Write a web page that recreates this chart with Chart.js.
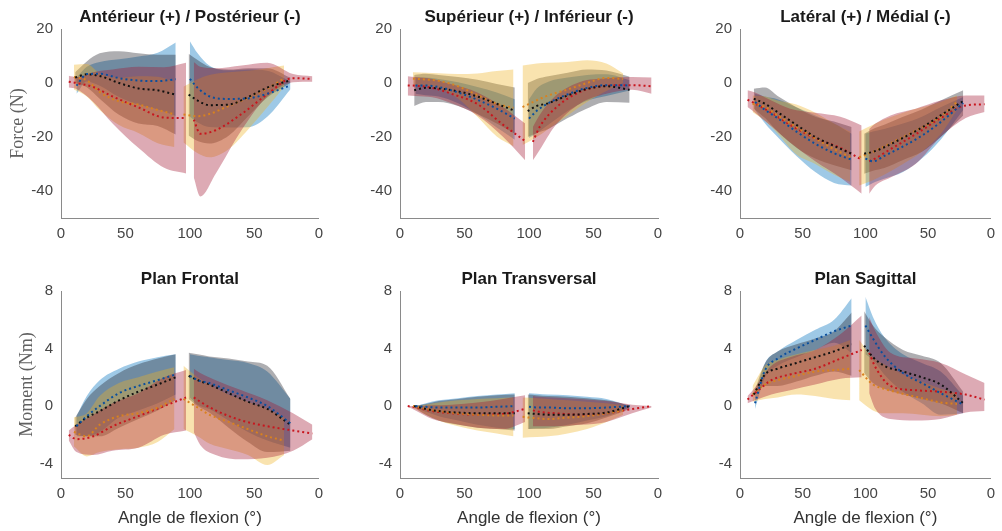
<!DOCTYPE html>
<html>
<head>
<meta charset="utf-8">
<script src="https://cdn.jsdelivr.net/npm/chart.js@4.4.1/dist/chart.umd.min.js"></script>
<style>
  body { margin: 0; background: #fff; }
  #wrap { position: relative; width: 1002px; height: 531px; overflow: hidden; }
  canvas { position: absolute; }
</style>
</head>
<body>
<div id="wrap">
  <canvas id="c0"></canvas><canvas id="c1"></canvas><canvas id="c2"></canvas>
  <canvas id="c3"></canvas><canvas id="c4"></canvas><canvas id="c5"></canvas>
</div>
<script>
// x positions: 0-100 = flexion, 100-200 = extension (shown as 100 -> 0)
const xTicks = [0, 50, 100, 150, 200];
const xTickLabels = ['0', '50', '100', '50', '0'];
const forceTicks = [-40, -20, 0, 20];
const momentTicks = [-4, 0, 4, 8];

// first 7 = flexion, last 7 = extension
const xBlue   = [12, 20, 30, 45, 60, 75, 89, 100, 106, 115, 130, 145, 160, 178];
const xBlack  = [11, 20, 30, 45, 60, 75, 89, 99, 106, 115, 130, 145, 160, 178];
const xYellow = [10, 20, 30, 45, 60, 75, 88, 95, 106, 115, 130, 145, 160, 173];
const xRed    = [6, 12, 25, 40, 60, 80, 97, 103, 108, 120, 140, 160, 180, 195];

// Antérieur / Postérieur
const apBlueMean = [-1, 3.3, 3.4, 1.8, 0.9, 0.7, 1.4, 1.5, -1.8, -4.9, -5.9, -5.7, -4, -0.9];
const apBlueHi = [2, 6, 7.8, 8.8, 9.8, 11.2, 15, 15.5, 11, 6.5, 4.7, 5, 4.5, 0.5];
const apBlueLo = [-4, 0.6, -1, -5.2, -8, -9.8, -12.2, -12.5, -14.6, -16.3, -16.5, -16.4, -12.5, -2.3];
const apBlackMean = [2, 3.2, 2.6, 0, -2, -2.7, -4.3, -4.3, -6.5, -8.2, -8, -5.2, -1.7, 1];
const apBlackHi = [4, 8, 11, 11.8, 11, 10.5, 10.5, 10.8, 8.5, 6, 5, 5.5, 5.5, 2];
const apBlackLo = [0, -1.6, -5.8, -11.8, -15, -15.9, -19.1, -19.4, -21.5, -22.4, -19.5, -12.4, -5.4, 0];
const apYellowMean = [2.2, 1, -3.3, -6.8, -8, -10, -11.6, -11.7, -12.3, -11.5, -8.5, -5.5, -2, 1.6];
const apYellowHi = [6.8, 7, 3.5, 2, 2.5, 2.3, 0.5, -1.4, 1.4, 3, 4, 4.5, 5.5, 6.5];
const apYellowLo = [-2.4, -5, -10, -15.6, -18.5, -22.3, -23.7, -22, -26, -27.5, -24.5, -17.3, -9, -1.5];
const apRedMean = [0.5, 0, -1.5, -5, -9, -12.8, -13, -13.6, -18.8, -17.5, -11.5, -4.2, 1.8, 1.5];
const apRedHi = [2.7, 2.2, 4, 5, 6, 5.8, 7.5, 7.8, 6, 5.5, 6.5, 7.5, 3.3, 2.5];
const apRedLo = [-1.7, -2.2, -7, -15, -24, -31.4, -33.5, -35, -42, -33.6, -17.5, -5, 0.3, 0.5];

// Supérieur / Inférieur
const siBlueMean = [-0.9, -0.9, -1.5, -3.5, -6.2, -9.5, -13.2, -13.2, -10.3, -7.5, -4.2, -1.8, -0.8, -0.9];
const siBlueHi = [2, 2, 1.5, 0.3, -1.5, -3.5, -6, -6, -2, 0.5, 2, 3, 3.2, 1];
const siBlueLo = [-4, -4.5, -5, -7.5, -11.5, -16.5, -21, -20.4, -18.6, -15.5, -10.4, -6.6, -4.8, -2.8];
const siBlackMean = [-2.7, -1.8, -2, -3.1, -5, -7.7, -10.3, -10.4, -8.5, -7.5, -4.6, -2.2, -1.2, -2.5];
const siBlackHi = [3, 3.4, 3, 2.2, 1.2, -0.4, -1.7, 0, 1.5, 2.5, 3.8, 5, 4.6, 2.3];
const siBlackLo = [-8.5, -7, -7, -8.5, -11.5, -15, -18.8, -20, -18.5, -17, -13, -9.4, -7, -7.3];
const siYellowMean = [1.6, 1.3, 0.8, -1.2, -4.5, -7.7, -9.2, -8.9, -6.4, -4.6, -2.4, 0, 1.9, 1.5];
const siYellowHi = [4, 3.8, 3.6, 3.3, 3.5, 4.4, 5, 6.5, 7.2, 7.5, 7.8, 8.4, 7.2, 3.5];
const siYellowLo = [-0.8, -1.2, -2, -5.7, -12.5, -19.8, -23.4, -23, -20, -17, -12, -7, -3, 0];
const siRedMean = [-0.9, -1, -1.8, -4, -7.8, -15.5, -21.5, -21.8, -16.5, -9.5, -3.2, -1, -0.8, -1.2];
const siRedHi = [2.5, 2.2, 1.5, -0.5, -3.5, -9, -15, -16.3, -12, -5, 0.5, 1.8, 2.2, 2];
const siRedLo = [-4.6, -4.8, -5.3, -7.5, -12, -20, -28.6, -28.6, -25, -16, -7.5, -4, -2.5, -4];

// Latéral / Médial
const lmBlueMean = [-7, -10, -13, -18, -22.5, -26, -28.4, -28, -29, -27, -23.5, -19.5, -14.5, -7.4];
const lmBlueHi = [-4, -5, -6, -9, -12, -15, -18.8, -18.8, -18, -17, -15, -12.5, -9, -5.2];
const lmBlueLo = [-10, -15, -20, -27, -33, -37, -38, -38.5, -37, -35.5, -33, -28, -21, -10];
const lmBlackMean = [-5.8, -7.7, -10.8, -15.5, -20, -23.3, -26.2, -26.2, -25.5, -23.8, -20.3, -16.5, -12, -6.7];
const lmBlackHi = [-2.1, -1.7, -4.8, -9, -12.5, -14.3, -16.3, -18.8, -17, -15.5, -12.5, -9.8, -6.5, -2.7];
const lmBlackLo = [-9.5, -13, -18, -24, -28, -30.5, -32.3, -33.6, -32.5, -31.5, -28.5, -25.5, -20, -12];
const lmYellowMean = [-7.7, -8.9, -12, -16.3, -20.5, -24.5, -27.4, -27.5, -25.5, -23.5, -20, -16.5, -12.5, -7];
const lmYellowHi = [-4.6, -5, -6.5, -8, -11, -15, -18.1, -18, -15.5, -13.5, -11, -9, -7, -4.6];
const lmYellowLo = [-10.7, -14, -18.8, -26.5, -30, -34, -36.7, -38, -36, -34, -30, -25.5, -19, -10];
const lmRedMean = [-6.2, -7.6, -11, -15.5, -20.5, -24, -28.4, -29, -27.9, -24.5, -19, -13, -8.3, -7.9];
const lmRedHi = [-2.7, -3.5, -6.5, -9.5, -11, -12.5, -15.7, -17, -15, -12, -9.5, -6.5, -4.6, -4.6];
const lmRedLo = [-8.9, -11, -16, -22, -29, -35, -41, -41, -38, -35, -30, -20, -13, -10.7];

// Plan Frontal
const frBlueMean = [-1.4, -0.7, 0, 0.9, 1.4, 1.8, 2.2, 2.1, 1.8, 1.6, 1.1, 0.6, 0, -1.2];
const frBlueHi = [-0.7, 0.7, 1.8, 2.6, 3.1, 3.4, 3.6, 3.6, 3.5, 3.4, 3.2, 3, 2.4, 0.5];
const frBlueLo = [-2.1, -2.1, -1.8, -0.8, -0.3, 0.2, 0.8, 0.6, 0.1, -0.2, -1, -1.8, -2.4, -2.9];
const frBlackMean = [-1.4, -0.8, -0.35, 0.4, 1, 1.5, 2, 2.1, 1.8, 1.5, 0.9, 0.3, -0.2, -1.3];
const frBlackHi = [-0.8, 0.5, 1.4, 2.3, 2.9, 3.3, 3.6, 3.7, 3.6, 3.45, 3.3, 3.1, 2.8, 0.5];
const frBlackLo = [-2, -2.1, -2.1, -1.5, -0.9, -0.3, 0.4, 0.5, 0, -0.45, -1.5, -2.5, -3.2, -3.1];
const frYellowMean = [-1.8, -2.1, -1.3, -0.7, -0.5, -0.1, 0.5, 0.5, -0.1, -0.6, -1.1, -1.6, -2.1, -2.4];
const frYellowHi = [-0.8, -0.5, 0.7, 1.6, 2, 2.4, 2.7, 2.8, 2, 1.5, 0.8, 0.3, -0.2, -0.8];
const frYellowLo = [-2.8, -3.5, -3.2, -3, -2.9, -2.5, -1.6, -1.6, -2.1, -2.6, -3, -3.4, -4.1, -3.4];
const frRedMean = [-2, -2.3, -2.1, -1.4, -0.7, 0, 0.6, 0.6, 0.3, -0.3, -1, -1.4, -1.7, -1.9];
const frRedHi = [-1.7, -1.3, -0.6, 0.2, 0.9, 2, 2.5, 2.6, 2.3, 1.8, 1.1, 0.4, -0.5, -1.3];
const frRedLo = [-2.4, -3.2, -3.4, -3.1, -2.9, -2, -1.7, -1.8, -2.7, -3.4, -3.7, -3.6, -3.1, -2.3];

// Plan Transversal
const trBlueMean = [0, -0.05, -0.1, -0.1, -0.1, -0.05, 0, -0.05, -0.1, -0.1, -0.15, -0.15, -0.1, 0];
const trBlueHi = [0, 0.2, 0.4, 0.55, 0.7, 0.8, 0.9, 0.9, 0.85, 0.8, 0.75, 0.65, 0.5, 0];
const trBlueLo = [-0.1, -0.4, -0.7, -1, -1.3, -1.5, -1.6, -1.6, -1.55, -1.5, -1.3, -1, -0.7, -0.1];
const trBlackMean = [0, -0.2, -0.35, -0.45, -0.5, -0.5, -0.5, -0.5, -0.55, -0.6, -0.6, -0.55, -0.45, 0];
const trBlackHi = [0, 0.15, 0.35, 0.5, 0.65, 0.75, 0.8, 0.8, 0.75, 0.7, 0.65, 0.55, 0.4, 0.05];
const trBlackLo = [-0.1, -0.6, -1, -1.3, -1.5, -1.6, -1.7, -1.6, -1.6, -1.6, -1.4, -1.2, -0.8, -0.2];
const trYellowMean = [0, -0.2, -0.35, -0.5, -0.6, -0.65, -0.65, -0.75, -0.85, -0.9, -0.8, -0.7, -0.5, -0.3];
const trYellowHi = [0, 0.1, 0.25, 0.4, 0.5, 0.55, 0.6, 0.6, 0.55, 0.5, 0.4, 0.3, 0.2, 0.05];
const trYellowLo = [-0.1, -0.6, -1, -1.4, -1.7, -1.9, -2.1, -2.2, -2.15, -2.1, -1.9, -1.6, -1.1, -0.6];
const trRedMean = [0, -0.1, -0.35, -0.5, -0.6, -0.55, -0.2, -0.3, -0.4, -0.5, -0.6, -0.5, -0.2, 0];
const trRedHi = [0, 0, 0.05, 0.1, 0.25, 0.5, 0.75, 0.7, 0.65, 0.6, 0.5, 0.35, 0.1, 0];
const trRedLo = [-0.05, -0.3, -0.9, -1.2, -1.5, -1.6, -1.1, -1.4, -1.4, -1.4, -1.3, -1.1, -0.5, -0.1];

// Plan Sagittal
const sgBlueMean = [0.2, 2.5, 3.3, 4, 4.6, 5.2, 5.6, 5.6, 4.7, 3.5, 2.3, 1.6, 0.9, 0.1];
const sgBlueHi = [0.8, 3, 3.8, 4.6, 5.3, 6, 7.5, 7.6, 6.2, 4.8, 3.6, 3, 2.4, 0.7];
const sgBlueLo = [-0.2, 2, 2.8, 3.4, 3.9, 4.4, 3.7, 3.6, 3.2, 2.2, 1, 0.2, -0.6, -0.5];
const sgBlackMean = [0.8, 2.2, 2.6, 3, 3.4, 3.8, 4.3, 4.2, 3.4, 2.8, 2.4, 2, 1.5, 0.2];
const sgBlackHi = [0.9, 3, 3.8, 4.3, 4.7, 5.2, 6.5, 6.6, 5.6, 4.8, 3.9, 3.5, 3, 1];
const sgBlackLo = [0.7, 1.4, 1.4, 1.7, 2.1, 2.4, 2.1, 2.3, 1.6, 1.2, 0.8, 0.5, 0.2, -0.5];
const sgYellowMean = [0.8, 1.5, 1.8, 2.1, 2.4, 2.5, 2.6, 2.5, 1.5, 1.2, 0.85, 0.55, 0.25, 0.15];
const sgYellowHi = [1.4, 2.8, 3.2, 3.6, 3.9, 4.2, 4.6, 4.6, 3.4, 2.9, 2.2, 1.7, 1.2, 0.9];
const sgYellowLo = [0.3, 0.5, 0.6, 0.8, 0.7, 0.5, 0.4, 0.4, -0.3, -0.5, -0.5, -0.6, -0.7, -0.6];
const sgRedMean = [0.45, 0.9, 1.8, 2.2, 2.6, 3.3, 3.9, 3.7, 2.7, 1.4, 1.1, 1, 0.8, 0.45];
const sgRedHi = [0.7, 1.3, 2.8, 3.4, 3.9, 5, 6.3, 6.2, 5.2, 3.7, 3.3, 3, 2.2, 1.6];
const sgRedLo = [0.2, 0.4, 0.8, 1.1, 1.5, 1.9, 2, 0.9, -0.2, -0.9, -1, -0.9, -0.45, -0.35];

const groups = ['blue', 'black', 'yellow', 'red'];
const xByGroup = { blue: xBlue, black: xBlack, yellow: xYellow, red: xRed };
const groupStyle = {
  blue:   { band: 'rgba(0, 114, 189, 0.38)', line: '#0a4f9e', order: 4 },
  black:  { band: 'rgba(30, 30, 40, 0.36)',  line: '#111111', order: 3 },
  yellow: { band: 'rgba(237, 177, 32, 0.36)', line: '#d9821f', order: 2 },
  red:    { band: 'rgba(162, 20, 47, 0.36)', line: '#c8161e', order: 1 },
};

const axisColor = '#8a8a8a';
const tickColor = '#454545';
Chart.defaults.font.family = '"Liberation Sans", Arial, sans-serif';

function pts(xs, ys, from, to) {
  const out = [];
  for (let i = from; i < to; i++) out.push({ x: xs[i], y: ys[i] });
  return out;
}

function buildDatasets(series) {
  const bands = [], means = [];
  groups.forEach(g => {
    const xs = xByGroup[g], st = groupStyle[g];
    const [mean, hi, lo] = series[g];
    [[0, 7], [7, 14]].forEach(([a, b]) => {
      bands.push({ data: pts(xs, hi, a, b), borderWidth: 0, pointRadius: 0, fill: false,
                   order: st.order, cubicInterpolationMode: 'monotone' });
      bands.push({ data: pts(xs, lo, a, b), borderWidth: 0, pointRadius: 0, fill: '-1',
                   backgroundColor: st.band, order: st.order, cubicInterpolationMode: 'monotone' });
      means.push({ data: pts(xs, mean, a, b), borderColor: st.line, borderWidth: 2,
                   borderDash: [2, 3], pointRadius: 0, fill: false, order: 0,
                   cubicInterpolationMode: 'monotone' });
    });
  });
  return bands.concat(means);
}

// panel title drawn above the plot area
const panelTitle = {
  id: 'panelTitle',
  afterDraw(chart, args, opts) {
    const { ctx, chartArea: a } = chart;
    ctx.save();
    ctx.font = 'bold 17px "Liberation Sans", Arial, sans-serif';
    ctx.fillStyle = '#1a1a1a';
    ctx.textAlign = 'center';
    ctx.textBaseline = 'middle';
    ctx.fillText(opts.text, (a.left + a.right) / 2, a.top - 12);
    ctx.restore();
  }
};

const rowTop = { top: 0, h: 260, pt: 29, xh: 42 };
const rowBottom = { top: 260, h: 271, pt: 31, xh: 53 };
const cols = [
  { left: 0, w: 330, yw: 61, pr: 11 },
  { left: 340, w: 330, yw: 60, pr: 12 },
  { left: 680, w: 322, yw: 60, pr: 4 },
];

const panels = [
  { title: 'Antérieur (+) / Postérieur (-)', row: rowTop, col: cols[0], ymin: -50, ymax: 20, yt: forceTicks,
    ytitle: 'Force (N)', ytpad: 7,
    series: { blue: [apBlueMean, apBlueHi, apBlueLo], black: [apBlackMean, apBlackHi, apBlackLo],
              yellow: [apYellowMean, apYellowHi, apYellowLo], red: [apRedMean, apRedHi, apRedLo] } },
  { title: 'Supérieur (+) / Inférieur (-)', row: rowTop, col: cols[1], ymin: -50, ymax: 20, yt: forceTicks,
    series: { blue: [siBlueMean, siBlueHi, siBlueLo], black: [siBlackMean, siBlackHi, siBlackLo],
              yellow: [siYellowMean, siYellowHi, siYellowLo], red: [siRedMean, siRedHi, siRedLo] } },
  { title: 'Latéral (+) / Médial (-)', row: rowTop, col: cols[2], ymin: -50, ymax: 20, yt: forceTicks,
    series: { blue: [lmBlueMean, lmBlueHi, lmBlueLo], black: [lmBlackMean, lmBlackHi, lmBlackLo],
              yellow: [lmYellowMean, lmYellowHi, lmYellowLo], red: [lmRedMean, lmRedHi, lmRedLo] } },
  { title: 'Plan Frontal', row: rowBottom, col: cols[0], ymin: -5, ymax: 8, yt: momentTicks,
    ytitle: 'Moment (Nm)', ytpad: 16, xtitle: true,
    series: { blue: [frBlueMean, frBlueHi, frBlueLo], black: [frBlackMean, frBlackHi, frBlackLo],
              yellow: [frYellowMean, frYellowHi, frYellowLo], red: [frRedMean, frRedHi, frRedLo] } },
  { title: 'Plan Transversal', row: rowBottom, col: cols[1], ymin: -5, ymax: 8, yt: momentTicks, xtitle: true,
    series: { blue: [trBlueMean, trBlueHi, trBlueLo], black: [trBlackMean, trBlackHi, trBlackLo],
              yellow: [trYellowMean, trYellowHi, trYellowLo], red: [trRedMean, trRedHi, trRedLo] } },
  { title: 'Plan Sagittal', row: rowBottom, col: cols[2], ymin: -5, ymax: 8, yt: momentTicks, xtitle: true,
    series: { blue: [sgBlueMean, sgBlueHi, sgBlueLo], black: [sgBlackMean, sgBlackHi, sgBlackLo],
              yellow: [sgYellowMean, sgYellowHi, sgYellowLo], red: [sgRedMean, sgRedHi, sgRedLo] } },
];

panels.forEach((p, i) => {
  const cv = document.getElementById('c' + i);
  cv.width = p.col.w; cv.height = p.row.h;
  cv.style.left = p.col.left + 'px'; cv.style.top = p.row.top + 'px';
  cv.style.width = p.col.w + 'px'; cv.style.height = p.row.h + 'px';

  new Chart(cv, {
    type: 'line',
    data: { datasets: buildDatasets(p.series) },
    plugins: [panelTitle],
    options: {
      responsive: false,
      animation: false,
      devicePixelRatio: 1,
      layout: { padding: { top: p.row.pt, right: p.col.pr, left: 0, bottom: 0 } },
      plugins: {
        legend: { display: false },
        tooltip: { enabled: false },
        panelTitle: { text: p.title },
      },
      scales: {
        x: {
          type: 'linear', min: 0, max: 200,
          afterFit: s => { s.height = p.row.xh; },
          afterBuildTicks: s => { s.ticks = xTicks.map(v => ({ value: v })); },
          grid: { display: false, drawTicks: false },
          border: { display: true, color: axisColor, width: 1 },
          ticks: { padding: 7, color: tickColor, font: { size: 15 }, maxRotation: 0,
                   callback: (v) => xTickLabels[xTicks.indexOf(v)] },
          title: { display: !!p.xtitle, text: 'Angle de flexion (°)', color: '#333',
                   font: { size: 17 }, padding: { top: 0, bottom: 2 } },
        },
        y: {
          type: 'linear', min: p.ymin, max: p.ymax,
          afterFit: s => { s.width = p.col.yw; },
          afterBuildTicks: s => { s.ticks = p.yt.map(v => ({ value: v })); },
          grid: { display: false, drawTicks: false },
          border: { display: true, color: axisColor, width: 1 },
          ticks: { padding: 8, color: tickColor, font: { size: 15 } },
          title: { display: !!p.ytitle, text: p.ytitle || '', color: '#606060',
                   font: { family: '"Liberation Serif", "DejaVu Serif", serif', size: 18 },
                   padding: { top: p.ytpad || 0, bottom: 0 } },
        },
      },
    },
  });
});
</script>
</body>
</html>
